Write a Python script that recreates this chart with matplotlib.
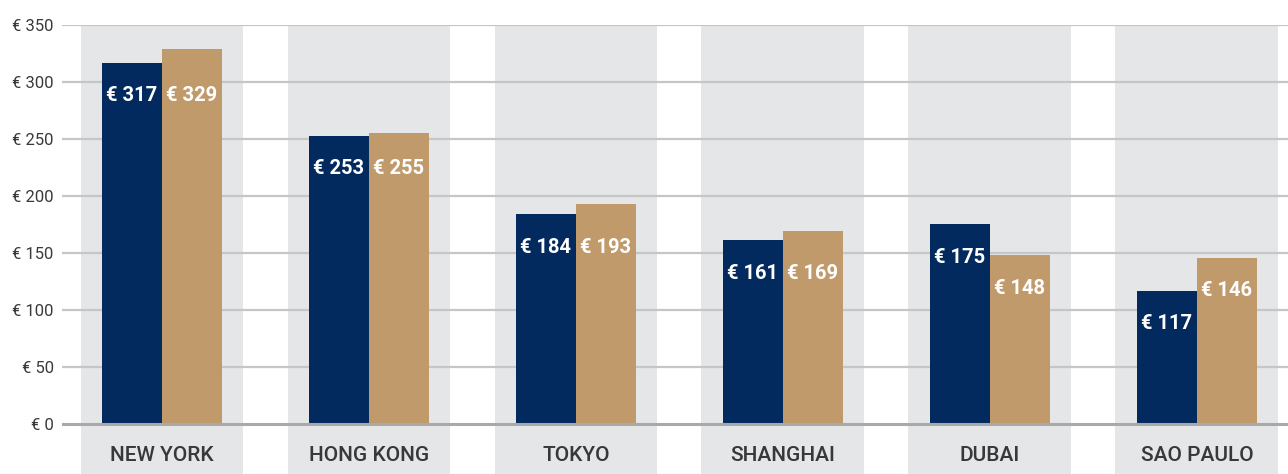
import numpy as np
import matplotlib.pyplot as plt

# average prices per city, two series
cities = ['NEW YORK', 'HONG KONG', 'TOKYO', 'SHANGHAI', 'DUBAI', 'SAO PAULO']
price_navy = [317, 253, 184, 161, 175, 117]
price_tan = [329, 255, 193, 169, 148, 146]
yticks = [0, 50, 100, 150, 200, 250, 300, 350]

NAVY = '#022a5e'
TAN = '#c19a6c'
BAND = '#e5e6e8'
GRID = '#c6c6c6'

plt.rcParams['font.family'] = ['Roboto', 'DejaVu Sans']

fig = plt.figure(figsize=(12.88, 4.74), dpi=100)
ax = fig.add_axes([62 / 1288, 0, 1 - 62 / 1288, 449 / 474])

ymin, ymax = -43.9, 350
ax.set_ylim(ymin, ymax)
ax.set_xlim(-0.483, 5.44)

x = np.arange(len(cities))
bw = 0.29

# grey background band behind each city, running down under the labels
ax.bar(x, ymax - ymin, bottom=ymin, width=0.787, color=BAND, zorder=0)

# horizontal gridlines
for t in yticks[1:]:
    ax.axhline(t, color=GRID, lw=1.6, zorder=1)
ax.axhline(0, color='#a9a9a9', lw=2.2, zorder=3)

ax.bar(x - bw / 2, price_navy, width=bw, color=NAVY, zorder=2)
ax.bar(x + bw / 2, price_tan, width=bw, color=TAN, zorder=2)

# value labels inside the bars, kept level when the pair is close
for i in range(len(cities)):
    a, b = price_navy[i], price_tan[i]
    if abs(a - b) < 20:
        ya = yb = min(a, b) - 29
    else:
        ya, yb = a - 29, b - 29
    ax.text(x[i] - bw / 2, ya, f'€ {a}', ha='center', va='center',
            color='white', fontsize=14.5, fontweight='bold', zorder=4)
    ax.text(x[i] + bw / 2, yb, f'€ {b}', ha='center', va='center',
            color='white', fontsize=14.5, fontweight='bold', zorder=4)
    ax.text(x[i], -28, cities[i], ha='center', va='center',
            color='#383838', fontsize=15, fontweight='medium', zorder=4)

ax.set_yticks(yticks)
ax.set_yticklabels([f'€ {t}' for t in yticks], fontsize=12, color='#3a3a3a')
ax.set_xticks([])
ax.tick_params(axis='y', length=0, pad=6)
for s in ax.spines.values():
    s.set_visible(False)

fig.savefig('out.png', dpi=100)
